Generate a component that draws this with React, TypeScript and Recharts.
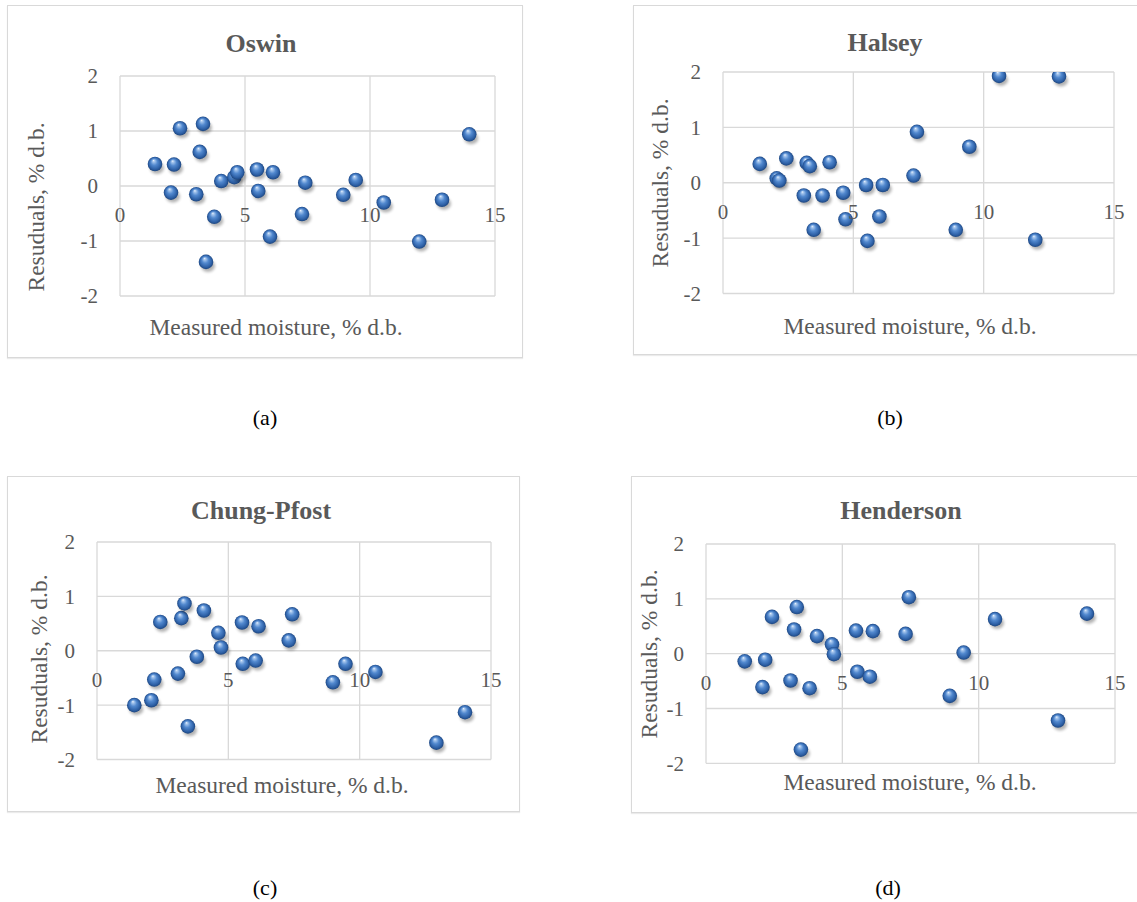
import React from 'react';
import { ScatterChart, Scatter, XAxis, YAxis, CartesianGrid } from 'recharts';

// ---------- data ----------
const xTicks = [0, 5, 10, 15];
const yTicks = [-2, -1, 0, 1, 2];
const panelTitles = ['Oswin', 'Halsey', 'Chung-Pfost', 'Henderson'];
const captions = ['(a)', '(b)', '(c)', '(d)'];
const xAxisTitle = 'Measured moisture, % d.b.';
const yAxisTitle = 'Resuduals, % d.b.';

const oswinX = [1.40, 2.04, 2.16, 2.40, 3.05, 3.19, 3.32, 3.44, 3.77, 4.05, 4.57, 4.69, 5.48, 5.53, 6.00, 6.12, 7.28, 7.41, 8.93, 9.43, 10.55, 11.97, 12.88, 13.97];
const oswinY = [0.40, -0.12, 0.39, 1.05, -0.15, 0.62, 1.13, -1.38, -0.56, 0.09, 0.16, 0.25, 0.30, -0.09, -0.92, 0.25, -0.51, 0.06, -0.16, 0.11, -0.30, -1.01, -0.25, 0.94];

const halseyX = [1.41, 2.06, 2.16, 2.43, 3.10, 3.21, 3.33, 3.48, 3.82, 4.09, 4.61, 4.70, 5.49, 5.54, 6.00, 6.13, 7.31, 7.44, 8.93, 9.45, 10.59, 11.98, 12.89];
const halseyY = [0.34, 0.08, 0.04, 0.44, -0.23, 0.36, 0.30, -0.85, -0.23, 0.37, -0.18, -0.66, -0.04, -1.05, -0.61, -0.04, 0.13, 0.92, -0.85, 0.65, 1.93, -1.03, 1.92];

const chungX = [1.42, 2.07, 2.18, 2.41, 3.08, 3.21, 3.33, 3.46, 3.80, 4.07, 4.62, 4.72, 5.52, 5.55, 6.04, 6.15, 7.30, 7.43, 8.98, 9.46, 10.60, 12.92, 14.01];
const chungY = [-1.00, -0.91, -0.53, 0.53, -0.42, 0.60, 0.87, -1.39, -0.11, 0.74, 0.33, 0.06, 0.52, -0.24, -0.18, 0.45, 0.19, 0.67, -0.58, -0.24, -0.39, -1.69, -1.13];

const hendersonX = [1.42, 2.07, 2.17, 2.42, 3.10, 3.23, 3.33, 3.48, 3.80, 4.07, 4.62, 4.69, 5.50, 5.55, 6.01, 6.12, 7.32, 7.44, 8.94, 9.45, 10.60, 12.91, 13.97];
const hendersonY = [-0.14, -0.61, -0.11, 0.67, -0.49, 0.44, 0.85, -1.75, -0.63, 0.32, 0.17, -0.01, 0.42, -0.33, -0.42, 0.41, 0.36, 1.03, -0.77, 0.02, 0.63, -1.22, 0.73];

const toPoints = (xs: number[], ys: number[]) => xs.map((x, i) => ({ x, y: ys[i] }));
const seriesData = [
  toPoints(oswinX, oswinY),
  toPoints(halseyX, halseyY),
  toPoints(chungX, chungY),
  toPoints(hendersonX, hendersonY),
];

// ---------- layout ----------
const LAYOUT = [
  { frame: { l: 7, t: 5, r: 523, b: 358 }, plot: { l: 120, t: 76, r: 495, b: 296 }, title: [261, 44], xl: [276, 328], yl: [36.5, 207], cap: [265, 418] },
  { frame: { l: 633, t: 5, r: 1150, b: 355 }, plot: { l: 723, t: 72, r: 1114, b: 293.5 }, title: [885, 43], xl: [910, 327], yl: [661, 182.5], cap: [890, 418] },
  { frame: { l: 7, t: 476, r: 520, b: 812 }, plot: { l: 97, t: 542, r: 491, b: 759.5 }, title: [261, 511], xl: [282, 786], yl: [40, 659], cap: [265, 888] },
  { frame: { l: 631, t: 476, r: 1150, b: 813 }, plot: { l: 706, t: 544, r: 1115, b: 763.3 }, title: [901, 511], xl: [910, 783], yl: [650, 653.5], cap: [888, 888] },
];

const FONT = "'Liberation Serif', 'Times New Roman', serif";
const TEXT_GRAY = '#595959';
const GRID = '#d9d9d9';
const AXIS_W = 1;

const Sphere = (props: any) => {
  const { cx, cy } = props;
  if (cx == null || cy == null) return null;
  return (
    <g>
      <ellipse cx={cx + 2} cy={cy + 4} rx={7} ry={6} fill="#000" opacity={0.3} filter="url(#sphShadow)" />
      <circle cx={cx} cy={cy} r={7.3} fill="url(#sphGrad)" />
    </g>
  );
};

const centered = (c: number[], extra: React.CSSProperties, rotate = false): React.CSSProperties => ({
  position: 'absolute',
  left: c[0],
  top: c[1],
  transform: `translate(-50%, -50%)${rotate ? ' rotate(-90deg)' : ''}`,
  whiteSpace: 'nowrap',
  lineHeight: 1,
  fontFamily: FONT,
  ...extra,
});

function Panel({ idx }: { idx: number }) {
  const L = LAYOUT[idx];
  const f = L.frame;
  const p = L.plot;
  const W = f.r - f.l;
  const H = f.b - f.t;
  const plotH = p.b - p.t;
  const renderXTick = (props: any) => {
    const { x, y, payload } = props;
    return (
      <text
        x={x}
        y={y - plotH / 2 + 29}
        textAnchor="middle"
        dominantBaseline="central"
        fill={TEXT_GRAY}
        fontSize={21}
        fontFamily={FONT}
      >
        {payload.value}
      </text>
    );
  };
  return (
    <>
      <div
        style={{
          position: 'absolute',
          left: f.l,
          top: f.t,
          width: W,
          height: H,
          border: `1px solid ${GRID}`,
          boxSizing: 'border-box',
          background: '#fff',
          boxShadow: '0 1px 1px rgba(0,0,0,0.08)',
        }}
      />
      <div style={{ position: 'absolute', left: f.l, top: f.t }}>
        <ScatterChart
          width={W}
          height={H}
          margin={{ left: p.l - f.l - AXIS_W, top: p.t - f.t, right: f.r - p.r, bottom: f.b - p.b - AXIS_W }}
        >
          <CartesianGrid stroke={GRID} strokeWidth={1.3} />
          <XAxis
            type="number"
            dataKey="x"
            domain={[0, 15]}
            ticks={xTicks}
            interval={0}
            height={AXIS_W}
            axisLine={false}
            tickLine={false}
            tickSize={0}
            tickMargin={0}
            tick={renderXTick}
          />
          <YAxis
            type="number"
            dataKey="y"
            domain={[-2, 2]}
            ticks={yTicks}
            interval={0}
            width={AXIS_W}
            axisLine={false}
            tickLine={false}
            tickSize={0}
            tickMargin={22}
            allowDataOverflow
            tick={{ fill: TEXT_GRAY, fontSize: 21, fontFamily: FONT }}
          />
          <Scatter data={seriesData[idx]} shape={Sphere} isAnimationActive={false} />
        </ScatterChart>
      </div>
      <div style={centered(L.title, { fontSize: 26, fontWeight: 'bold', color: TEXT_GRAY })}>{panelTitles[idx]}</div>
      <div style={centered(L.xl, { fontSize: 23.5, color: TEXT_GRAY })}>{xAxisTitle}</div>
      <div style={centered(L.yl, { fontSize: 23.5, color: TEXT_GRAY }, true)}>{yAxisTitle}</div>
      <div style={centered(L.cap, { fontSize: 22, color: '#000' })}>{captions[idx]}</div>
    </>
  );
}

export default function App() {
  return (
    <div
      style={{
        position: 'absolute',
        left: 0,
        top: 0,
        width: 1137,
        height: 902,
        overflow: 'hidden',
        background: '#fff',
      }}
    >
      <svg width={0} height={0} style={{ position: 'absolute' }}>
        <defs>
          <radialGradient id="sphGrad" cx="0.5" cy="0.5" r="0.5" fx="0.4" fy="0.25">
            <stop offset="0" stopColor="#eef5fd" />
            <stop offset="0.14" stopColor="#a9c8ee" />
            <stop offset="0.45" stopColor="#5289cf" />
            <stop offset="0.8" stopColor="#2f62a8" />
            <stop offset="1" stopColor="#1d4680" />
          </radialGradient>
          <filter id="sphShadow" x="-50%" y="-50%" width="200%" height="200%">
            <feGaussianBlur stdDeviation="1.6" />
          </filter>
        </defs>
      </svg>
      {[0, 1, 2, 3].map((i) => (
        <Panel key={i} idx={i} />
      ))}
    </div>
  );
}
